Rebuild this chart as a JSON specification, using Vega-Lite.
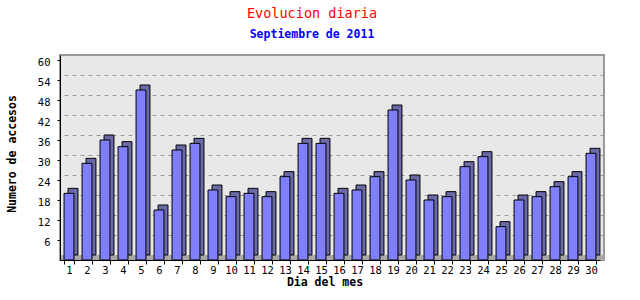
{
  "$schema": "https://vega.github.io/schema/vega-lite/v6.json",
  "autosize": "none",
  "width": 544,
  "height": 205,
  "padding": {"left": 60, "top": 55, "right": 36, "bottom": 40},
  "background": "white",
  "view": {"stroke": "#999999", "strokeWidth": 2, "fill": "#e8e8e8"},
  "title": {
    "text": "Evolucion diaria",
    "subtitle": "Septiembre de 2011",
    "color": "#ff0000",
    "subtitleColor": "#0000ff",
    "font": "DejaVu Sans Mono",
    "fontSize": 13.5,
    "fontWeight": "normal",
    "subtitleFont": "DejaVu Sans Mono",
    "subtitleFontSize": 11.5,
    "subtitleFontWeight": "bold",
    "anchor": "middle",
    "frame": "group",
    "dx": -20,
    "offset": 15,
    "subtitlePadding": 8
  },
  "data": {
    "values": [
      {"dia": 1, "accesos": 20}, {"dia": 2, "accesos": 29}, {"dia": 3, "accesos": 36},
      {"dia": 4, "accesos": 34}, {"dia": 5, "accesos": 51}, {"dia": 6, "accesos": 15},
      {"dia": 7, "accesos": 33}, {"dia": 8, "accesos": 35}, {"dia": 9, "accesos": 21},
      {"dia": 10, "accesos": 19}, {"dia": 11, "accesos": 20}, {"dia": 12, "accesos": 19},
      {"dia": 13, "accesos": 25}, {"dia": 14, "accesos": 35}, {"dia": 15, "accesos": 35},
      {"dia": 16, "accesos": 20}, {"dia": 17, "accesos": 21}, {"dia": 18, "accesos": 25},
      {"dia": 19, "accesos": 45}, {"dia": 20, "accesos": 24}, {"dia": 21, "accesos": 18},
      {"dia": 22, "accesos": 19}, {"dia": 23, "accesos": 28}, {"dia": 24, "accesos": 31},
      {"dia": 25, "accesos": 10}, {"dia": 26, "accesos": 18}, {"dia": 27, "accesos": 19},
      {"dia": 28, "accesos": 22}, {"dia": 29, "accesos": 25}, {"dia": 30, "accesos": 32}
    ]
  },
  "resolve": {"scale": {"y": "independent"}, "axis": {"y": "independent"}},
  "layer": [
    {
      "mark": {"type": "rule", "color": "#a8a8a8", "strokeWidth": 5},
      "encoding": {
        "y": {
          "datum": 0.75,
          "type": "quantitative",
          "scale": {"domain": [0, 61.5], "nice": false, "zero": true},
          "axis": {
            "orient": "right",
            "grid": true,
            "values": [7.5, 13.5, 19.5, 25.5, 31.5, 37.5, 43.5, 49.5, 55.5],
            "labels": false,
            "ticks": false,
            "domain": false,
            "title": null,
            "gridColor": "#999999",
            "gridDash": [4, 4],
            "gridWidth": 1
          }
        }
      }
    },
    {
      "encoding": {
        "x": {
          "field": "dia",
          "type": "ordinal",
          "scale": {"range": [0, 540], "paddingInner": 0.45, "paddingOuter": 0.225},
          "axis": {
            "title": "Dia del mes",
            "labelAngle": 0,
            "tickBand": "extent",
            "tickSize": 4,
            "tickColor": "black",
            "domainColor": "black",
            "grid": false,
            "labelFont": "DejaVu Sans Mono",
            "labelFontSize": 10.5,
            "labelColor": "black",
            "labelBaseline": "alphabetic",
            "labelPadding": 9,
            "titleFont": "DejaVu Sans Mono",
            "titleFontSize": 11.5,
            "titleFontWeight": "bold",
            "titleColor": "black",
            "titleX": 264.5,
            "titleY": 25.5,
            "titleBaseline": "alphabetic",
            "titleAlign": "center",
            "zindex": 1
          }
        },
        "y": {
          "field": "accesos",
          "type": "quantitative",
          "scale": {"domain": [0, 61.5], "nice": false},
          "axis": {
            "orient": "left",
            "values": [6, 12, 18, 24, 30, 36, 42, 48, 54, 60],
            "grid": false,
            "domainColor": "black",
            "tickColor": "black",
            "tickSize": 3,
            "labelFont": "DejaVu Sans Mono",
            "labelFontSize": 10.5,
            "labelColor": "black",
            "labelPadding": 7,
            "labelOffset": 2,
            "title": "Numero de accesos",
            "titleFont": "DejaVu Sans Mono",
            "titleFontSize": 11.5,
            "titleFontWeight": "bold",
            "titleColor": "black",
            "titleX": -47.5,
            "titleY": 98.5,
            "titleAngle": 270,
            "titleAlign": "center",
            "titleBaseline": "middle",
            "zindex": 1
          }
        }
      },
      "layer": [
        {"mark": {"type": "bar", "color": "#6a6aa8", "stroke": "black", "strokeWidth": 1, "xOffset": 4, "yOffset": -5}},
        {"mark": {"type": "bar", "color": "#8080ff", "stroke": "black", "strokeWidth": 1}}
      ]
    }
  ]
}
